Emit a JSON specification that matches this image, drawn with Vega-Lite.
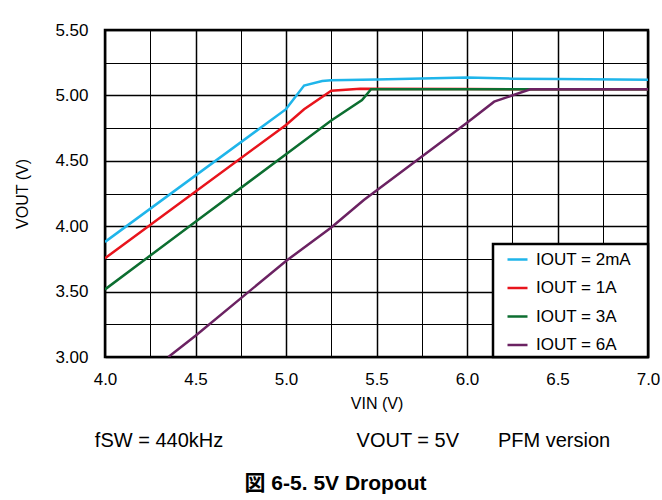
{
  "$schema": "https://vega.github.io/schema/vega-lite/v6.json",
  "width": 543,
  "height": 327,
  "autosize": {"type": "none"},
  "padding": {"left": 105, "top": 30, "right": 14, "bottom": 143},
  "background": "white",
  "config": {
    "font": "Liberation Sans, Arial, Noto Sans CJK JP",
    "view": {"stroke": "black", "strokeWidth": 2.5},
    "axis": {
      "domain": false,
      "ticks": false,
      "labelColor": "black",
      "titleColor": "black",
      "labelFont": "Liberation Sans",
      "titleFont": "Liberation Sans",
      "labelFontSize": 17,
      "titleFontSize": 16,
      "titleFontWeight": "normal",
      "gridColor": "black",
      "gridOpacity": 1,
      "labelFlush": false
    }
  },
  "title": {
    "text": "fSW = 440kHz\u00a0\u00a0\u00a0\u00a0\u00a0\u00a0\u00a0\u00a0\u00a0\u00a0\u00a0\u00a0\u00a0\u00a0\u00a0\u00a0\u00a0\u00a0\u00a0\u00a0\u00a0\u00a0\u00a0\u00a0VOUT = 5V\u00a0\u00a0\u00a0\u00a0\u00a0\u00a0\u00a0PFM version",
    "subtitle": "図 6-5. 5V Dropout\u00a0\u00a0\u00a0\u2800",
    "orient": "bottom",
    "anchor": "middle",
    "frame": "group",
    "dx": -24,
    "offset": 20,
    "fontSize": 20,
    "fontWeight": "normal",
    "color": "black",
    "font": "Liberation Sans",
    "subtitleFont": "Liberation Sans, DejaVu Sans, Noto Sans CJK JP",
    "subtitleFontSize": 21,
    "subtitleFontWeight": "bold",
    "subtitleColor": "black",
    "subtitlePadding": 22
  },
  "data": {
    "values": [
      {"s": "IOUT = 2mA", "vin": 4.0, "vout": 3.88},
      {"s": "IOUT = 2mA", "vin": 5.0, "vout": 4.895},
      {"s": "IOUT = 2mA", "vin": 5.1, "vout": 5.075},
      {"s": "IOUT = 2mA", "vin": 5.2, "vout": 5.11},
      {"s": "IOUT = 2mA", "vin": 5.25, "vout": 5.115},
      {"s": "IOUT = 2mA", "vin": 5.5, "vout": 5.122},
      {"s": "IOUT = 2mA", "vin": 5.75, "vout": 5.13},
      {"s": "IOUT = 2mA", "vin": 6.0, "vout": 5.137},
      {"s": "IOUT = 2mA", "vin": 6.25, "vout": 5.128},
      {"s": "IOUT = 2mA", "vin": 6.5, "vout": 5.125},
      {"s": "IOUT = 2mA", "vin": 7.0, "vout": 5.12},
      {"s": "IOUT = 1A", "vin": 4.0, "vout": 3.755},
      {"s": "IOUT = 1A", "vin": 5.0, "vout": 4.774},
      {"s": "IOUT = 1A", "vin": 5.1, "vout": 4.894},
      {"s": "IOUT = 1A", "vin": 5.25, "vout": 5.036},
      {"s": "IOUT = 1A", "vin": 5.41, "vout": 5.05},
      {"s": "IOUT = 1A", "vin": 6.0, "vout": 5.048},
      {"s": "IOUT = 1A", "vin": 7.0, "vout": 5.047},
      {"s": "IOUT = 3A", "vin": 4.0, "vout": 3.517},
      {"s": "IOUT = 3A", "vin": 4.5, "vout": 4.034},
      {"s": "IOUT = 3A", "vin": 5.0, "vout": 4.55},
      {"s": "IOUT = 3A", "vin": 5.25, "vout": 4.808},
      {"s": "IOUT = 3A", "vin": 5.42, "vout": 4.965},
      {"s": "IOUT = 3A", "vin": 5.47, "vout": 5.047},
      {"s": "IOUT = 3A", "vin": 6.0, "vout": 5.047},
      {"s": "IOUT = 3A", "vin": 7.0, "vout": 5.047},
      {"s": "IOUT = 6A", "vin": 4.35, "vout": 3.0},
      {"s": "IOUT = 6A", "vin": 4.5, "vout": 3.163},
      {"s": "IOUT = 6A", "vin": 5.0, "vout": 3.734},
      {"s": "IOUT = 6A", "vin": 5.25, "vout": 3.99},
      {"s": "IOUT = 6A", "vin": 5.43, "vout": 4.2},
      {"s": "IOUT = 6A", "vin": 6.0, "vout": 4.791},
      {"s": "IOUT = 6A", "vin": 6.15, "vout": 4.952},
      {"s": "IOUT = 6A", "vin": 6.35, "vout": 5.047},
      {"s": "IOUT = 6A", "vin": 7.0, "vout": 5.047}
    ]
  },
  "mark": {"type": "line", "strokeWidth": 2.5, "clip": true},
  "encoding": {
    "x": {
      "field": "vin",
      "type": "quantitative",
      "scale": {"domain": [4, 7], "nice": false, "zero": false},
      "axis": {
        "title": "VIN (V)",
        "values": [4, 4.25, 4.5, 4.75, 5, 5.25, 5.5, 5.75, 6, 6.25, 6.5, 6.75, 7],
        "labelExpr": "datum.value % 0.5 == 0 ? format(datum.value, '.1f') : ''",
        "labelPadding": 14,
        "titlePadding": 8,
        "gridWidth": {"condition": {"test": "datum.value % 0.5 == 0", "value": 1.5}, "value": 1}
      }
    },
    "y": {
      "field": "vout",
      "type": "quantitative",
      "scale": {"domain": [3, 5.5], "nice": false, "zero": false},
      "axis": {
        "title": "VOUT (V)",
        "values": [3, 3.25, 3.5, 3.75, 4, 4.25, 4.5, 4.75, 5, 5.25, 5.5],
        "labelExpr": "datum.value % 0.5 == 0 ? format(datum.value, '.2f') : ''",
        "labelPadding": 17,
        "titlePadding": 24,
        "gridWidth": {"condition": {"test": "datum.value % 0.5 == 0", "value": 1.5}, "value": 1}
      }
    },
    "color": {
      "field": "s",
      "type": "nominal",
      "sort": ["IOUT = 2mA", "IOUT = 1A", "IOUT = 3A", "IOUT = 6A"],
      "scale": {
        "domain": ["IOUT = 2mA", "IOUT = 1A", "IOUT = 3A", "IOUT = 6A"],
        "range": ["#1FB5EA", "#E8141C", "#0C6E30", "#6B2262"]
      },
      "legend": {
        "title": null,
        "orient": "bottom-right",
        "offset": 0,
        "fillColor": "white",
        "strokeColor": "black",
        "padding": 4,
        "symbolType": "stroke",
        "symbolSize": 400,
        "symbolStrokeWidth": 2.5,
        "symbolOffset": 9,
        "labelFont": "Liberation Sans, DejaVu Sans",
        "labelFontSize": 17,
        "labelColor": "black",
        "labelOffset": 7,
        "rowPadding": 8.5,
        "labelExpr": "datum.label + '\u2800'",
        "encode": {"legend": {"update": {"strokeWidth": {"value": 2.5}}}}
      }
    }
  }
}
